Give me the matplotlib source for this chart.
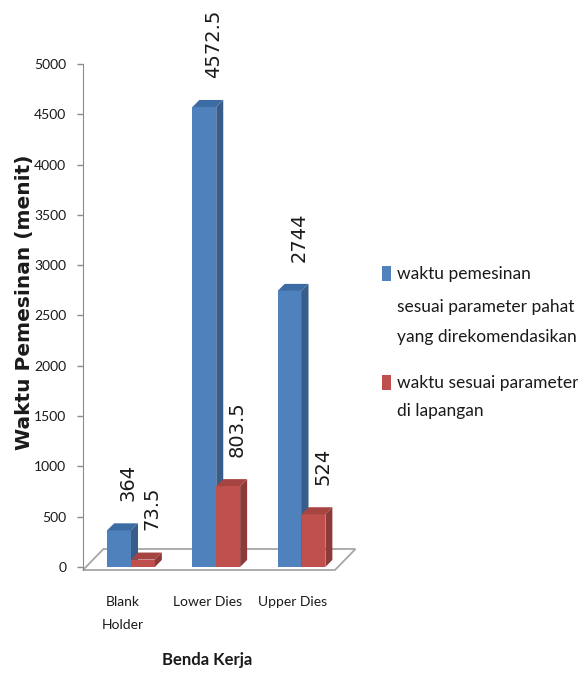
import numpy as np
import matplotlib.pyplot as plt
from matplotlib.patches import Polygon, Rectangle

# data
categories = ['Blank\nHolder', 'Lower Dies', 'Upper Dies']
waktu_rekomendasi = [364, 4572.5, 2744]
waktu_lapangan = [73.5, 803.5, 524]
legend_labels = [['waktu pemesinan', 'sesuai parameter pahat', 'yang direkomendasikan'],
                 ['waktu sesuai parameter', 'di lapangan']]
yticks = np.arange(0, 5001, 500)

SANS = ['Lato', 'DejaVu Sans']
# (front, side, top) shades for each series
shades = [('#4F81BD', '#385D8A', '#3D6BA4'),
          ('#C0504D', '#8C3B39', '#A64441')]

W, H = 578, 674
fig = plt.figure(figsize=(W / 100, H / 100), dpi=100)
ax = fig.add_axes([83 / W, 104 / H, 277 / W, 506 / H])
ax.set_xlim(-0.563, 2.686)
ax.set_ylim(-30, 5000)

pos = np.arange(len(categories))
w = 0.28            # bar width
dx, dy = 0.082, 70  # depth of the 3d boxes


def box(x0, h, front, side, top):
    x1 = x0 + w
    ax.add_patch(Polygon([(x0, 0), (x1, 0), (x1, h), (x0, h)],
                         closed=True, fc=front, ec='none', zorder=3))
    ax.add_patch(Polygon([(x1, 0), (x1 + dx, dy), (x1 + dx, h + dy), (x1, h)],
                         closed=True, fc=side, ec='none', zorder=3))
    ax.add_patch(Polygon([(x0, h), (x1, h), (x1 + dx, h + dy), (x0 + dx, h + dy)],
                         closed=True, fc=top, ec='none', zorder=3))


# floor of the 3d chart
skew_x, floor_back = 0.24, 179
fl, fr = ax.get_xlim()[0], 2.393
ax.add_patch(Polygon([(fl, -30), (fr, -30), (fr + skew_x, floor_back), (fl + skew_x, floor_back)],
                     closed=True, fc='white', ec='#A6A6A6', lw=1.3, zorder=1, clip_on=False))

for i, p in enumerate(pos):
    for j, vals in enumerate([waktu_rekomendasi, waktu_lapangan]):
        x0 = p - w + j * w
        v = vals[i]
        box(x0, v, *shades[j])
        ax.text(x0 + w / 2 + 1.3 * dx, v + 290, f'{v:g}', rotation=90,
                ha='center', va='bottom', fontsize=14, family='DejaVu Sans', color='#1a1a1a')

# axes styling
for s in ['top', 'right', 'bottom']:
    ax.spines[s].set_visible(False)
ax.spines['left'].set_color('#8C8C8C')
ax.set_yticks(yticks)
ax.tick_params(axis='y', direction='out', length=4, width=1, color='#8C8C8C',
               pad=8, labelsize=10, labelcolor='#1a1a1a')
for lbl in ax.get_yticklabels():
    lbl.set_family(SANS)

ax.set_xticks(pos - 0.1, categories)
ax.tick_params(axis='x', length=0, pad=19, labelsize=10, labelcolor='#1a1a1a')
for lbl in ax.get_xticklabels():
    lbl.set_family(SANS)
    lbl.set_linespacing(2.05)

fig.text(25 / W, 1 - 302 / H, 'Waktu Pemesinan (menit)', rotation=90, ha='center', va='center',
         fontsize=14.5, fontweight='bold', family='DejaVu Sans', color='#1a1a1a')
fig.text(207 / W, 1 - 660 / H, 'Benda Kerja', ha='center', va='center',
         fontsize=12, fontweight='bold', family=SANS, color='#1a1a1a')

# legend drawn by hand
legend_rows = [[279, 312, 342], [388, 416]]
for (front, _, _), lines, rows in zip(shades, legend_labels, legend_rows):
    fig.patches.append(Rectangle((382 / W, 1 - (rows[0] + 2) / H), 9 / W, 15 / H,
                                 transform=fig.transFigure, fc=front, ec='none'))
    for txt, yb in zip(lines, rows):
        fig.text(397 / W, 1 - yb / H, txt, ha='left', va='baseline',
                 fontsize=12.5, family=SANS, color='#1a1a1a')

fig.savefig('out.png', dpi=100)
